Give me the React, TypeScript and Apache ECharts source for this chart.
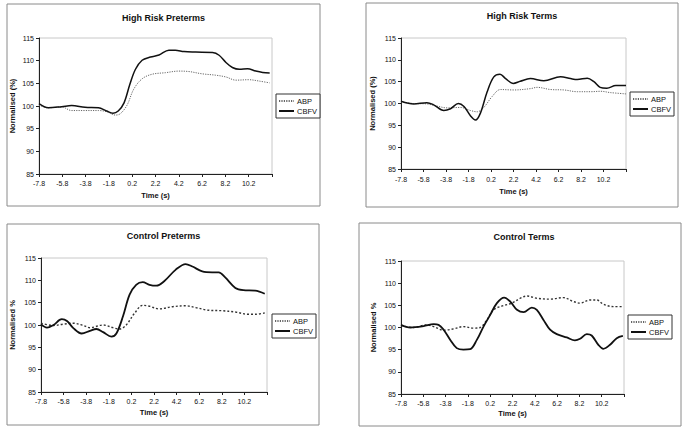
import React, { useEffect, useRef } from "react";
import * as echarts from "echarts";

// ---- Data (time in s, value in %) ----
const titles = ["High Risk Preterms", "High Risk Terms", "Control Preterms", "Control Terms"];
const yNames = ["Normalised (%)", "Normalised (%)", "Normalised %", "Normalised %"];
const seriesNames = ["ABP", "CBFV"];

const hrpABP: [number, number][] = [
  [-7.8, 100.2], [-7.0, 99.6], [-5.85, 99.8], [-5.0, 99.0], [-3.85, 99.0], [-2.7, 99.0], [-2.0, 98.75],
  [-1.25, 98.0], [-0.82, 98.3], [-0.24, 100.2], [0.33, 103.7], [1.05, 106.0], [1.9, 107.0], [3.06, 107.35],
  [4.2, 107.7], [5.07, 107.6], [6.2, 107.1], [7.35, 106.8], [8.25, 106.4], [9.1, 105.7], [10.2, 105.8],
  [11.1, 105.5], [12.0, 105.1],
];
const hrpCBFV: [number, number][] = [
  [-7.8, 100.5], [-7.0, 99.6], [-5.85, 99.85], [-5.0, 100.1], [-3.85, 99.7], [-2.7, 99.6], [-2.0, 98.9],
  [-1.45, 98.4], [-1.0, 98.9], [-0.5, 100.7], [0.0, 104.8], [0.48, 108.1], [1.05, 110.1], [1.77, 110.8],
  [2.5, 111.25], [3.35, 112.3], [3.9, 112.3], [4.65, 112.0], [5.65, 111.9], [7.1, 111.8], [7.66, 111.2],
  [8.25, 109.6], [8.8, 108.5], [9.4, 108.1], [10.1, 108.2], [10.8, 107.7], [11.4, 107.4], [12.0, 107.3],
];
const hrtABP: [number, number][] = [
  [-7.8, 100.4], [-6.7, 100.0], [-5.5, 99.9], [-4.6, 99.4], [-3.7, 99.0], [-2.5, 99.1], [-1.63, 98.4],
  [-1.03, 98.1], [-0.44, 99.1], [0.3, 101.6], [1.04, 103.2], [2.23, 103.1], [3.7, 103.4], [4.3, 103.7],
  [5.5, 103.2], [6.7, 103.1], [7.87, 102.7], [9.05, 102.7], [9.95, 102.8], [10.8, 102.5], [12.2, 102.2],
];
const hrtCBFV: [number, number][] = [
  [-7.8, 100.5], [-6.67, 99.9], [-5.5, 100.2], [-4.9, 99.7], [-4.0, 98.4], [-3.4, 98.8], [-2.7, 100.0],
  [-2.2, 99.3], [-1.63, 97.2], [-1.18, 96.2], [-0.74, 97.8], [-0.14, 102.7], [0.45, 106.1], [1.0, 106.7],
  [1.5, 105.7], [2.17, 104.6], [2.8, 105.1], [3.7, 105.7], [4.9, 105.2], [6.38, 106.1], [7.27, 105.7],
  [7.87, 105.5], [8.76, 105.8], [9.35, 105.0], [9.9, 103.7], [10.5, 103.5], [11.3, 104.1], [12.2, 104.1],
];
const cpABP: [number, number][] = [
  [-7.8, 100.4], [-6.7, 99.9], [-5.8, 100.2], [-4.94, 100.4], [-4.06, 99.9], [-3.47, 99.4], [-2.3, 100.0],
  [-1.43, 99.4], [-0.84, 99.1], [-0.26, 100.0], [0.47, 102.6], [1.2, 104.4], [1.8, 104.2], [2.65, 103.6],
  [3.84, 104.1], [5.0, 104.3], [5.9, 103.9], [7.05, 103.3], [8.2, 103.2], [9.4, 102.9], [10.56, 102.4],
  [11.15, 102.4], [12.0, 102.7],
];
const cpCBFV: [number, number][] = [
  [-7.8, 100.2], [-7.27, 99.4], [-6.7, 100.0], [-5.96, 101.3], [-5.5, 100.9], [-4.94, 99.3], [-4.2, 98.1],
  [-3.47, 98.7], [-2.9, 99.1], [-2.3, 98.4], [-1.57, 97.4], [-1.13, 98.1], [-0.55, 101.9], [0.04, 106.8],
  [0.62, 109.0], [1.2, 109.6], [1.8, 109.0], [2.4, 108.8], [3.1, 109.8], [4.13, 112.4], [5.0, 113.65],
  [5.6, 113.1], [6.47, 112.0], [7.35, 111.8], [7.93, 111.8], [8.5, 110.65], [9.4, 108.3], [10.1, 107.8],
  [11.15, 107.7], [12.0, 107.0],
];
const ctABP: [number, number][] = [
  [-7.8, 100.45], [-6.7, 100.0], [-5.47, 100.6], [-4.87, 100.2], [-3.98, 99.4], [-3.08, 99.7], [-2.2, 100.2],
  [-1.3, 99.85], [-0.7, 100.0], [-0.1, 101.7], [0.5, 104.0], [1.4, 104.95], [2.15, 105.5], [2.9, 106.6],
  [3.5, 107.1], [4.38, 106.6], [5.57, 106.4], [6.77, 106.75], [7.66, 105.85], [8.26, 105.5], [9.15, 106.2],
  [9.75, 106.2], [10.35, 105.25], [11.24, 104.7], [12.1, 104.7],
];
const ctCBFV: [number, number][] = [
  [-7.8, 100.6], [-6.96, 100.0], [-5.77, 100.3], [-4.87, 100.75], [-4.43, 100.6], [-3.98, 99.5],
  [-3.38, 97.2], [-2.8, 95.35], [-2.2, 95.0], [-1.6, 95.1], [-1.0, 97.2], [-0.4, 100.2], [0.2, 102.85],
  [0.8, 105.5], [1.45, 106.75], [2.0, 105.85], [2.6, 104.0], [3.2, 103.45], [3.93, 104.5], [4.38, 104.0],
  [4.98, 101.7], [5.57, 99.5], [6.17, 98.5], [7.07, 97.75], [7.8, 97.1], [8.26, 97.45], [8.86, 98.5],
  [9.3, 98.2], [9.9, 96.1], [10.35, 95.2], [10.95, 96.1], [11.55, 97.6], [12.1, 98.1],
];
const abpData = [hrpABP, hrtABP, cpABP, ctABP];
const cbfvData = [hrpCBFV, hrtCBFV, cpCBFV, ctCBFV];

const xMin = -7.8;
const xMax = 12.2;
const xStep = 2;
const yMin = 85;
const yMax = 115;
const yStep = 5;

// ---- Layout (pixels) ----
const layout = [
  { frame: [7, 4, 313, 202], grid: [39, 38, 233, 136], title: [163.5, 18], legend: [276, 94], yGap: 23, xGap: 17, labM: 6 },
  { frame: [366, 3, 312, 204], grid: [401, 38, 225, 131], title: [522, 16], legend: [630, 92], yGap: 25, xGap: 18, labM: 7 },
  { frame: [7, 224, 312, 201], grid: [41, 258, 226, 134], title: [163.5, 236], legend: [272, 314], yGap: 25, xGap: 16, labM: 6 },
  { frame: [359, 223, 322, 203], grid: [401, 261, 223, 133], title: [524, 236.5], legend: [628, 315], yGap: 24, xGap: 15, labM: 6 },
];

const FONT = "Liberation Sans, Arial, sans-serif";

export default function App() {
  const ref = useRef<HTMLDivElement>(null);
  useEffect(() => {
    if (!ref.current) return;
    const chart = echarts.init(ref.current, undefined, { renderer: "svg" });
    const grids: any[] = [];
    const xAxes: any[] = [];
    const yAxes: any[] = [];
    const series: any[] = [];
    const legends: any[] = [];
    const graphics: any[] = [];
    layout.forEach((L, i) => {
      const [fx, fy, fw, fh] = L.frame;
      graphics.push({
        type: "rect",
        shape: { x: fx, y: fy, width: fw, height: fh },
        style: { fill: "none", stroke: "#8a8a8a", lineWidth: 1 },
        silent: true,
        z: 0,
      });
      graphics.push({
        type: "text",
        x: L.title[0],
        y: L.title[1],
        silent: true,
        style: {
          text: titles[i],
          fill: "#111",
          font: `bold 9px ${FONT}`,
          textAlign: "center",
          textVerticalAlign: "middle",
        },
      });
      const [gl, gt, gw, gh] = L.grid;
      grids.push({
        left: gl, top: gt, width: gw, height: gh,
        show: true, borderColor: "#c8c8c8", borderWidth: 1, backgroundColor: "#fff",
      });
      xAxes.push({
        gridIndex: i,
        type: "value",
        min: xMin,
        max: xMax,
        interval: xStep,
        name: "Time (s)",
        nameLocation: "middle",
        nameGap: L.xGap,
        nameTextStyle: { fontSize: 7.5, fontWeight: "bold", color: "#111", fontFamily: FONT },
        axisLine: { show: true, onZero: false, lineStyle: { color: "#222", width: 1 } },
        axisTick: { show: true, length: 3, lineStyle: { color: "#222" } },
        splitLine: { show: false },
        axisLabel: {
          fontSize: 7,
          color: "#111",
          fontFamily: FONT,
          margin: L.labM,
          showMaxLabel: true,
          formatter: (v: number) => (v > 12 ? "" : v.toFixed(1)),
        },
      });
      yAxes.push({
        gridIndex: i,
        type: "value",
        min: yMin,
        max: yMax,
        interval: yStep,
        name: yNames[i],
        nameLocation: "middle",
        nameGap: L.yGap,
        nameTextStyle: { fontSize: 7.5, fontWeight: "bold", color: "#111", fontFamily: FONT },
        axisLine: { show: true, onZero: false, lineStyle: { color: "#222", width: 1 } },
        axisTick: { show: true, length: 3, lineStyle: { color: "#222" } },
        splitLine: { show: false },
        axisLabel: { fontSize: 7, color: "#111", fontFamily: FONT, margin: 5 },
      });
      const bottomRow = i >= 2;
      series.push({
        name: seriesNames[0],
        type: "line",
        xAxisIndex: i,
        yAxisIndex: i,
        data: abpData[i],
        smooth: 0.35,
        symbol: "none",
        lineStyle: bottomRow
          ? { color: "#333", width: 1.4, type: [2, 2] }
          : { color: "#666", width: 1, type: [1.2, 1.2] },
        itemStyle: { color: bottomRow ? "#333" : "#666" },
      });
      series.push({
        name: seriesNames[1],
        type: "line",
        xAxisIndex: i,
        yAxisIndex: i,
        data: cbfvData[i],
        smooth: 0.35,
        symbol: "none",
        lineStyle: { color: "#111", width: bottomRow ? 1.8 : 1.5, type: "solid" },
        itemStyle: { color: "#111" },
      });
      legends.push({
        data: seriesNames,
        left: L.legend[0],
        top: L.legend[1],
        orient: "vertical",
        itemWidth: 15,
        itemHeight: 6,
        itemGap: 2,
        padding: [3, 3, 3, 2],
        borderColor: "#333",
        borderWidth: 1,
        backgroundColor: "#fff",
        selectedMode: false,
        itemStyle: { opacity: 0, borderWidth: 0 },
        textStyle: { fontSize: 7.5, color: "#111", fontFamily: FONT, padding: [0, 0, 0, -2] },
      });
    });
    chart.setOption({
      animation: false,
      backgroundColor: "#fff",
      grid: grids,
      xAxis: xAxes,
      yAxis: yAxes,
      series,
      legend: legends,
      graphic: graphics,
    });
    return () => chart.dispose();
  }, []);
  return (
    <div
      ref={ref}
      style={{ position: "absolute", left: 0, top: 0, width: 685, height: 430, background: "#fff" }}
    />
  );
}
